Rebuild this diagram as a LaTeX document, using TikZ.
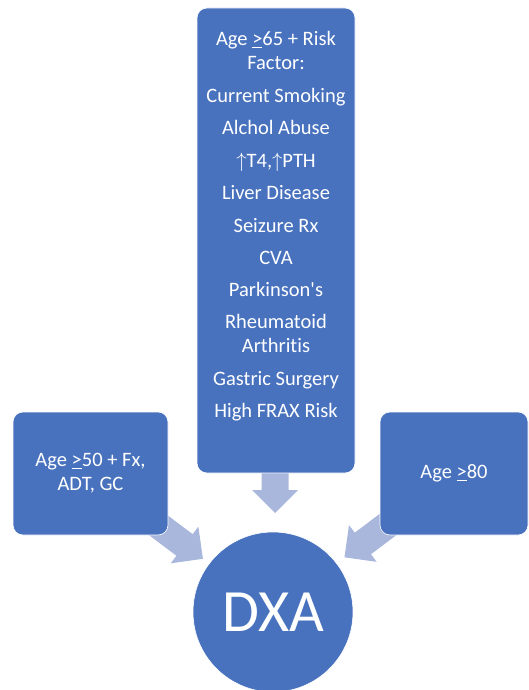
\documentclass[tikz,border=0pt]{standalone}
\usepackage{fontspec}
\setmainfont{Carlito}[Ligatures={TeXOff,CommonOff}]
\usetikzlibrary{calc}
\definecolor{boxblue}{RGB}{72,114,190}
\definecolor{arrowblue}{RGB}{169,183,221}
\pgfdeclarelayer{bg}
\pgfsetlayers{bg,main}
\tikzset{
  panel/.style={fill=boxblue, draw=white, line width=0.6pt, rounded corners=10pt,
    text=white, align=center, inner sep=0pt,
    font=\fontsize{20.5}{24}\selectfont},
  riskline/.style={text=white, anchor=base, inner sep=0pt,
    font=\fontsize{20.5}{24}\selectfont},
  hub/.style={circle, fill=boxblue, draw=white, line width=0.6pt, text=white,
    minimum size=160pt, inner sep=0pt, font=\fontsize{60}{60}\selectfont},
  blockarrow/.style={fill=arrowblue},
}
% block arrow with its tip at #1, pointing at angle #2
\newcommand{\blockarrowat}[2]{%
  \fill[blockarrow, shift={#1}, rotate=#2]
    (0,0) -- (-23,-23) -- (-23,-13.5) -- (-65,-13.5) -- (-65,13.5)
    -- (-23,13.5) -- (-23,23) -- cycle;}
\begin{document}
\begin{tikzpicture}[x=1pt, y=-1pt]
  \useasboundingbox (0,0) rectangle (529,690);

  % boxes
  \node[panel, minimum width=158pt, minimum height=465pt] (tbox) at (276,240.5) {};
  \node[panel, minimum width=155pt, minimum height=123pt] (lbox) at (90.5,473.5)
    {Age \underline{>}50 + Fx,\\ADT, GC};
  \node[panel, minimum width=148pt, minimum height=123pt] (rbox) at (454,473.5)
    {Age \underline{>}80};
  \node[hub] (dxa) at (273,612) {DXA};

  % risk factors listed in the top box
  \node[riskline] (r1)  at (276,46)    {Age \underline{>}65 + Risk};
  \node[riskline] (r2)  at (276,69.5)  {Factor:};
  \node[riskline] (r3)  at (276,102.5) {Current Smoking};
  \node[riskline] (r4)  at (276,135)   {Alchol Abuse};
  \node[riskline] (r5)  at (276,167.5) {$\uparrow$T4,$\uparrow$PTH};
  \node[riskline] (r6)  at (276,199.5) {Liver Disease};
  \node[riskline] (r7)  at (276,232)   {Seizure Rx};
  \node[riskline] (r8)  at (276,264)   {CVA};
  \node[riskline] (r9)  at (276,296.5) {Parkinson's};
  \node[riskline] (r10) at (276,328.5) {Rheumatoid};
  \node[riskline] (r11) at (276,352)   {Arthritis};
  \node[riskline] (r12) at (276,385)   {Gastric Surgery};
  \node[riskline] (r13) at (276,417)   {High FRAX Risk};

  % converging arrows, tucked behind the boxes
  \coordinate (tl) at ($(dxa.center)!88pt!(lbox.center)$);
  \coordinate (tt) at ($(dxa.center)!99pt!(tbox.south)$);
  \coordinate (tr) at ($(dxa.center)!90pt!(rbox.center)$);
  \begin{pgfonlayer}{bg}
    \blockarrowat{(tl)}{-37}
    \blockarrowat{(tt)}{-90}
    \blockarrowat{(tr)}{-143}
  \end{pgfonlayer}
\end{tikzpicture}
\end{document}
